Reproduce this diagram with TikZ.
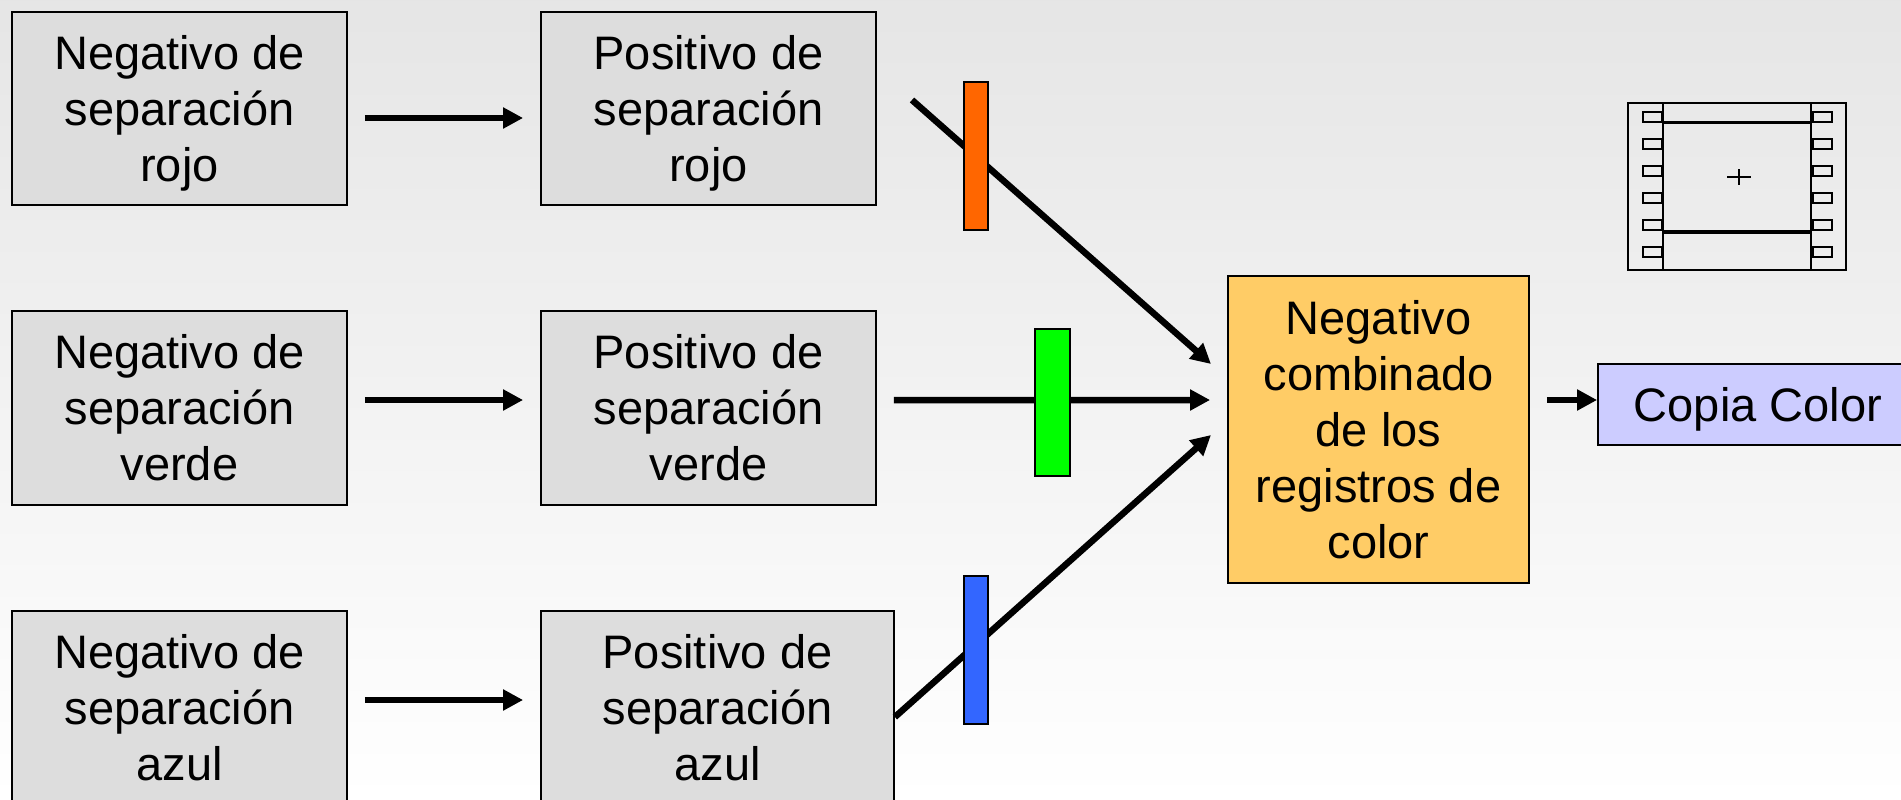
\documentclass[tikz,border=0pt]{standalone}
\usepackage{xcolor}
\usepackage{fontspec}
\setmainfont{Liberation Sans}
\usetikzlibrary{arrows.meta, positioning}

\definecolor{cajagris}{HTML}{DDDDDD}
\definecolor{cajanaranja}{HTML}{FFCC66}
\definecolor{cajalila}{HTML}{CCCCFF}
\definecolor{filtrorojo}{HTML}{FF6600}
\definecolor{filtroverde}{HTML}{00FF00}
\definecolor{filtroazul}{HTML}{3366FF}

\newcommand{\puntal}{\rule[-11.5pt]{0pt}{56pt}}

\tikzset{
  caja/.style={draw=black, line width=1.8pt, fill=cajagris, inner sep=0pt, align=center,
    minimum width=335pt, minimum height=193.5pt, font=\fontsize{47}{56}\selectfont,
    execute at end node=\puntal},
  filtro/.style={draw=black, line width=1.8pt, inner sep=0pt, minimum width=24pt},
  flecha/.style={line width=6.5pt, shorten >=17pt, shorten <=17pt},
  pelicula/.style={draw=black, line width=2pt, inner sep=0pt},
  perfora/.style={draw=black, line width=2pt, inner sep=0pt, minimum width=19pt, minimum height=10pt}
}

\begin{document}
\begin{tikzpicture}[x=1pt, y=-1pt, >={Triangle[length=20pt,width=20pt]}, node distance=104.2pt and 192.2pt]
\useasboundingbox (0,0) rectangle (1901,800);
\shade[top color=black!10, bottom color=white] (0,0) rectangle (1901,800);

% Cajas
\node[caja] (neg1) at (179.5,108.5) {\puntal Negativo de\\separación\\rojo};
\node[caja, below=of neg1] (neg2) {\puntal Negativo de\\separación\\verde};
\node[caja, below=of neg2] (neg3) {\puntal Negativo de\\separación\\azul};
\node[caja, right=of neg1] (pos1) {\puntal Positivo de\\separación\\rojo};
\node[caja, right=of neg2] (pos2) {\puntal Positivo de\\separación\\verde};
\node[caja, right=of neg3, minimum width=353pt] (pos3) {\puntal Positivo de\\separación\\azul};
\node[caja, fill=cajanaranja, minimum width=301pt, minimum height=307pt] (comb) at (1378.5,429.5)
  {\puntal Negativo\\combinado\\de los\\registros de\\color};
\node[caja, fill=cajalila, minimum width=320pt, minimum height=81pt] (copia) at (1758,404.5) {\puntal Copia Color};

% Extremos libres
\coordinate (inicio1) at (912,100);
\coordinate (fin1) at (1211,364);
\coordinate (fin3) at (1211,435);

% Flechas
\draw[->, flecha] ([yshift=-9.5pt]neg1.east) -- ([yshift=-9.5pt]pos1.west);
\draw[->, flecha] ([yshift=8pt]neg2.east) -- ([yshift=8pt]pos2.west);
\draw[->, flecha] ([yshift=7.5pt]neg3.east) -- ([yshift=7.5pt]pos3.west);
\draw[->, flecha, shorten >=0pt, shorten <=0pt] (inicio1) -- (fin1);
\draw[->, flecha] ([yshift=8pt]pos2.east) -- ([yshift=29.5pt]comb.west);
\draw[->, flecha, shorten >=0pt, shorten <=0pt] ([yshift=-9.5pt]pos3.east) -- (fin3);
\draw[->, flecha, shorten >=0pt] ([yshift=29.5pt]comb.east) -- ([yshift=4.5pt]copia.west);

% Filtros
\node[filtro, fill=filtrorojo, minimum height=148pt] (frojo) at (976,156) {};
\node[filtro, fill=filtroverde, minimum width=35pt, minimum height=147pt] (fverde) at (1052.5,402.5) {};
\node[filtro, fill=filtroazul, minimum height=148pt] (fazul) at (976,650) {};

% Pelicula
\node[pelicula, minimum width=218pt, minimum height=167pt] (cinta) at (1737,186.5) {};
\node[pelicula, minimum width=148pt, minimum height=19pt] (bandasup) at (1737,112.5) {};
\node[pelicula, minimum width=148pt, minimum height=108pt] (cuadro) at (1737,177) {};
\node[pelicula, minimum width=148pt, minimum height=37pt] (bandainf) at (1737,251.5) {};
\foreach \y in {117,144,171,198,225,252} {
  \node[perfora] (pizq\y) at (1652.5,\y) {};
  \node[perfora] (pder\y) at (1822.5,\y) {};
}
\draw[line width=2pt] (1727,177) -- (1751,177) (1739,169) -- (1739,185);
\end{tikzpicture}
\end{document}
